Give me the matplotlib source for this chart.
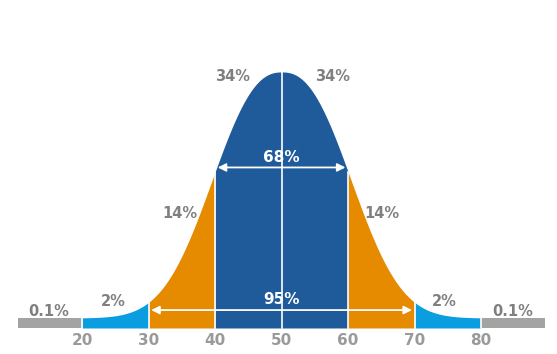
import numpy as np
import matplotlib
matplotlib.use("Agg")
import matplotlib.pyplot as plt

mean = 50
sd = 10
shape = 2.4          # curve shape (flattened bell as drawn in the reference)
boundaries = [20, 30, 40, 60, 70, 80]
region_colors = ["#0a9de0", "#e68a00", "#1f5a9a", "#e68a00", "#0a9de0"]
tick_values = [20, 30, 40, 50, 60, 70, 80]
pct_labels = ["0.1%", "2%", "14%", "34%", "34%", "14%", "2%", "0.1%"]
pct_x = [15.0, 24.7, 34.7, 42.7, 57.7, 65.0, 74.4, 84.7]
pct_y = [0.0625, 0.105, 0.449, 0.984, 0.984, 0.449, 0.105, 0.0625]
inner_labels = ["68%", "95%"]

fig = plt.figure(figsize=(5.57, 3.54), dpi=100)
ax = fig.add_axes([0, 0, 1, 1])
ax.set_xlim(7.67, 91.4)
ax.set_ylim(-0.1016, 1.281)
ax.axis("off")

bar_h = 0.039
def curve(x):
    z = np.abs((x - mean) / sd)
    return bar_h + (1 - bar_h) * np.exp(-0.522 * z ** shape)

for i in range(len(boundaries) - 1):
    a, b = boundaries[i], boundaries[i + 1]
    xs = np.linspace(a, b, 300)
    ax.fill_between(xs, 0, curve(xs), color=region_colors[i], linewidth=0)

# gray tails
ax.fill_between([10.4, 20], 0, bar_h, color="#a3a3a3", linewidth=0)
ax.fill_between([80, 89.6], 0, bar_h, color="#a3a3a3", linewidth=0)

# white separators
for b in boundaries:
    ax.plot([b, b], [0, curve(b)], color="white", lw=1.2)
ax.plot([mean, mean], [0, 1.0], color="white", lw=1.2)

# arrows
ax.annotate("", xy=(40.4, 0.627), xytext=(59.6, 0.627),
            arrowprops=dict(arrowstyle="<|-|>", color="white", lw=1.3,
                            mutation_scale=12, shrinkA=0, shrinkB=0))
ax.annotate("", xy=(30.4, 0.07), xytext=(69.6, 0.07),
            arrowprops=dict(arrowstyle="<|-|>", color="white", lw=1.3,
                            mutation_scale=12, shrinkA=0, shrinkB=0))
ax.text(mean, 0.664, inner_labels[0], color="white", fontsize=11,
        fontweight="bold", ha="center", va="center")
ax.text(mean, 0.113, inner_labels[1], color="white", fontsize=11,
        fontweight="bold", ha="center", va="center")

for t, x, y in zip(pct_labels, pct_x, pct_y):
    ax.text(x, y, t, color="#808080", fontsize=10.5, fontweight="bold",
            ha="center", va="center")

for v in tick_values:
    ax.text(v, -0.047, str(v), color="#9a9a9a", fontsize=11,
            fontweight="bold", ha="center", va="center")

fig.savefig("out.png", dpi=100)
